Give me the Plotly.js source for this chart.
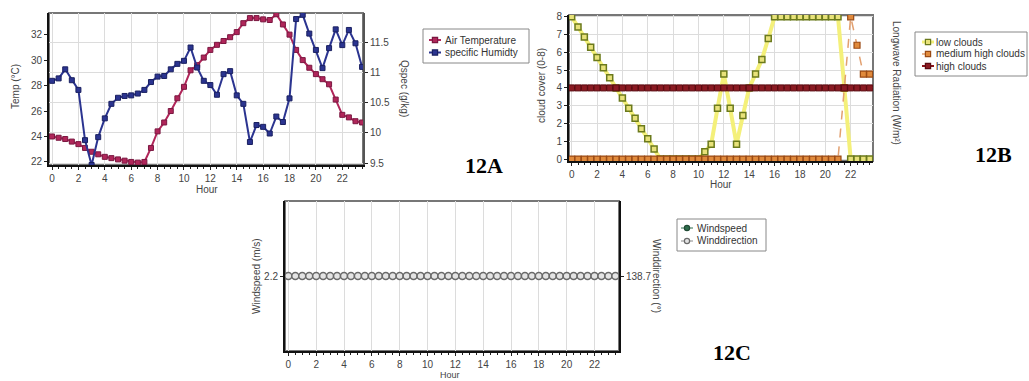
<!DOCTYPE html>
<html><head><meta charset="utf-8">
<script src="https://cdn.plot.ly/plotly-3.0.1.min.js"></script>
<style>html,body{margin:0;padding:0;background:#fff;overflow:hidden;width:1029px;height:381px;}#chart{width:1029px;height:381px;overflow:hidden;}</style>
</head><body><div id="chart"></div>
<script>
const hours = [0,0.5,1,1.5,2,2.5,3,3.5,4,4.5,5,5.5,6,6.5,7,7.5,8,8.5,9,9.5,10,10.5,11,11.5,12,12.5,13,13.5,14,14.5,15,15.5,16,16.5,17,17.5,18,18.5,19,19.5,20,20.5,21,21.5,22,22.5,23,23.5];
const hourTicks = [0,2,4,6,8,10,12,14,16,18,20,22];

// 12A
const airTemperature = [24.0,23.9,23.8,23.6,23.4,23.1,22.8,22.6,22.4,22.3,22.2,22.1,22.0,21.95,22.0,23.1,24.4,25.1,26.0,27.0,27.9,29.2,29.6,30.2,30.8,31.2,31.5,31.8,32.2,32.9,33.3,33.3,33.2,33.15,33.6,32.8,32.0,30.8,30.0,29.4,28.9,28.5,28.1,26.9,25.7,25.5,25.2,25.1];
const specificHumidity = [10.86,10.90,11.05,10.87,10.71,9.88,9.47,9.93,10.24,10.48,10.58,10.61,10.62,10.65,10.71,10.84,10.93,10.94,11.05,11.14,11.19,11.41,11.08,10.86,10.79,10.63,10.97,11.02,10.62,10.48,9.85,10.13,10.10,9.99,10.27,10.18,10.57,11.88,11.95,11.64,11.37,11.07,11.40,11.71,11.45,11.70,11.48,11.09];
const tempTicks = [22,24,26,28,30,32];
const qspecTicks = [9.5,10,10.5,11,11.5];

// 12B
const lowClouds = [8,7.43,6.86,6.29,5.71,5.14,4.57,4.0,3.43,2.86,2.29,1.71,1.14,0.57,0,0,0,0,0,0,0,0.41,0.83,2.85,4.78,2.85,0.83,2.45,4.0,4.78,5.6,6.78,8,8,8,8,8,8,8,8,8,8,8,4,0,0,0,0];
const mediumHighClouds = [0,0,0,0,0,0,0,0,0,0,0,0,0,0,0,0,0,0,0,0,0,0,0,0,0,0,0,0,0,0,0,0,0,0,0,0,0,0,0,0,0,0,0,4,8,6.4,4.78,4.78];
const highClouds = [4,4,4,4,4,4,4,4,4,4,4,4,4,4,4,4,4,4,4,4,4,4,4,4,4,4,4,4,4,4,4,4,4,4,4,4,4,4,4,4,4,4,4,4,4,4,4,4];
const cloudTicks = [0,1,2,3,4,5,6,7,8];
const longwaveTicks = [0];

// 12C
const windspeed = [2.2,2.2,2.2,2.2,2.2,2.2,2.2,2.2,2.2,2.2,2.2,2.2,2.2,2.2,2.2,2.2,2.2,2.2,2.2,2.2,2.2,2.2,2.2,2.2,2.2,2.2,2.2,2.2,2.2,2.2,2.2,2.2,2.2,2.2,2.2,2.2,2.2,2.2,2.2,2.2,2.2,2.2,2.2,2.2,2.2,2.2,2.2,2.2];
const winddirection = [138.7,138.7,138.7,138.7,138.7,138.7,138.7,138.7,138.7,138.7,138.7,138.7,138.7,138.7,138.7,138.7,138.7,138.7,138.7,138.7,138.7,138.7,138.7,138.7,138.7,138.7,138.7,138.7,138.7,138.7,138.7,138.7,138.7,138.7,138.7,138.7,138.7,138.7,138.7,138.7,138.7,138.7,138.7,138.7,138.7,138.7,138.7,138.7];
const windspeedTicks = [2.2];
const winddirectionTicks = [138.7];

const W = 1029, H = 381;
const px = v => v / W;
const py = v => 1 - v / H;
const fam = 'Liberation Sans, Arial, sans-serif';
const tf = {family: fam, size: 10, color: '#444'};

function xAxis(l, r, range, anchor) {
  return {domain: [px(l), px(r)], range: range, anchor: anchor, tickvals: hourTicks,
    ticks: 'outside', ticklen: 3, tickcolor: '#222', showline: true, linecolor: '#111', linewidth: 2,
    showgrid: true, gridcolor: '#dcdcdc', gridwidth: 1, zeroline: false, tickfont: tf,
    minor: {ticks: 'outside', tick0: 0, dtick: 0.5, ticklen: 2, tickcolor: '#222', showgrid: false},
    fixedrange: true};
}
function yAxis(t, b, range, anchor, tickvals, grid, lineColor) {
  return {domain: [py(b), py(t)], range: range, anchor: anchor, tickvals: tickvals,
    ticks: 'outside', ticklen: 3, tickcolor: '#222', showline: true, linecolor: lineColor || '#111', linewidth: 2,
    showgrid: grid, gridcolor: '#dcdcdc', gridwidth: 1, zeroline: false, tickfont: tf, fixedrange: true};
}
function yAxisRight(t, b, range, anchor, overlay, tickvals, grid, lineColor) {
  const a = yAxis(t, b, range, anchor, tickvals, grid, lineColor);
  a.side = 'right'; a.overlaying = overlay;
  return a;
}

const cA = '#b0265a', cB = '#2b3490';
const styles = {
  temp: {line: {color: cA, width: 2}, marker: {symbol: 'square', size: 5, color: cA, line: {color: '#7a1840', width: 1}}},
  hum: {line: {color: cB, width: 2}, marker: {symbol: 'square', size: 5, color: cB, line: {color: '#1a2060', width: 1}}},
  low: {line: {color: '#f4f07a', width: 4}, marker: {symbol: 'square', size: 6, color: '#e8e27a', line: {color: '#6b7a1c', width: 1.5}}},
  med: {line: {color: '#e2a070', width: 1.5, dash: 'dash'}, marker: {symbol: 'square', size: 6, color: '#e08a3c', line: {color: '#9a4a14', width: 1.2}}},
  high: {line: {color: '#8a1218', width: 2}, marker: {symbol: 'square', size: 6, color: '#8a1a22', line: {color: '#5a0a10', width: 1}}},
  ws: {line: {color: '#2f6e4e', width: 1}, marker: {symbol: 'circle', size: 6, color: '#2f6e4e', line: {color: '#1f4a34', width: 1}}},
  wd: {line: {color: '#888', width: 1}, marker: {symbol: 'circle', size: 7, color: '#e4e4e4', line: {color: '#6a6a6a', width: 1.5}}}
};

const traces = [
  Object.assign({x: hours, y: airTemperature, name: 'Air Temperature', xaxis: 'x', yaxis: 'y', mode: 'lines+markers'}, styles.temp),
  Object.assign({x: hours, y: specificHumidity, name: 'specific Humidty', xaxis: 'x', yaxis: 'y2', mode: 'lines+markers'}, styles.hum),
  Object.assign({x: hours, y: lowClouds, name: 'low clouds', xaxis: 'x2', yaxis: 'y3', mode: 'lines+markers'}, styles.low),
  Object.assign({x: hours, y: mediumHighClouds, name: 'medium high clouds', xaxis: 'x2', yaxis: 'y3', mode: 'lines+markers'}, styles.med),
  Object.assign({x: hours, y: highClouds, name: 'high clouds', xaxis: 'x2', yaxis: 'y3', mode: 'lines+markers'}, styles.high),
  {x: hours, y: windspeed, name: 'Windspeed', xaxis: 'x3', yaxis: 'y5', mode: 'markers', marker: styles.ws.marker},
  {x: hours, y: winddirection, name: 'Winddirection', xaxis: 'x3', yaxis: 'y6', mode: 'markers', marker: styles.wd.marker}
];

// panel frames
const A = {l: 49, r: 363, t: 13, b: 165};
const B = {l: 569, r: 873, t: 15, b: 161};
const C = {l: 285, r: 619, t: 201, b: 351};
const shapes = [A, B, C].map(p => ({type: 'rect', xref: 'paper', yref: 'paper', x0: px(p.l), x1: px(p.r), y0: py(p.b), y1: py(p.t),
  line: {color: '#777', width: 2}, layer: 'below'}));

const ann = (x, y, text, angle, extra) => Object.assign({xref: 'paper', yref: 'paper', x: px(x), y: py(y), text: text,
  showarrow: false, textangle: angle, font: {family: fam, size: 10, color: '#444'},
  xanchor: 'center', yanchor: 'middle'}, extra || {});
const panelFont = {family: 'Liberation Serif, Times New Roman, serif', size: 22, color: '#000', weight: 'bold'};

const annotations = [
  ann(15, 87, 'Temp (°C)', -90),
  ann(207, 189, 'Hour', 0),
  ann(405, 88, 'Qspec (g/kg)', 90),
  ann(542, 86, 'cloud cover (0-8)', -90),
  ann(721, 185, 'Hour', 0),
  ann(897, 83, 'Longwave Radiation (W/m²)', 90),
  ann(256, 276, 'Windspeed (m/s)', -90),
  ann(450, 381, 'Hour', 0, {yanchor: 'bottom', borderpad: 0, font: {family: fam, size: 9, color: '#444'}}),
  ann(657, 276, 'Winddirection (°)', 90),
  ann(463, 165, '12A', 0, {font: panelFont, xanchor: 'left'}),
  ann(973, 154, '12B', 0, {font: panelFont, xanchor: 'left'}),
  ann(711, 352, '12C', 0, {font: panelFont, xanchor: 'left'})
];

// compact legends drawn as shapes + text
function legend(box, symX, textX, rows, style, names) {
  shapes.push({type: 'rect', xref: 'paper', yref: 'paper', x0: px(box[0]), x1: px(box[2]), y0: py(box[3]), y1: py(box[1]),
    line: {color: '#888', width: 1}, fillcolor: '#fff', layer: 'above'});
  names.forEach((n, i) => {
    const s = style[i], y = rows[i];
    shapes.push({type: 'line', xref: 'paper', yref: 'paper', x0: px(symX - 6), x1: px(symX + 6), y0: py(y), y1: py(y),
      line: {color: s.line.color, width: Math.min(s.line.width, 3), dash: s.line.dash || 'solid'}, layer: 'above'});
    const r = 2.6;
    shapes.push({type: s.marker.symbol === 'circle' ? 'circle' : 'rect', xref: 'paper', yref: 'paper',
      x0: px(symX - r), x1: px(symX + r), y0: py(y + r), y1: py(y - r),
      fillcolor: s.marker.color, line: {color: s.marker.line.color, width: 1.2}, layer: 'above'});
    annotations.push({xref: 'paper', yref: 'paper', x: px(textX), y: py(y), text: n, showarrow: false,
      xanchor: 'left', yanchor: 'middle', font: {family: fam, size: 10, color: '#333'}});
  });
}
legend([423, 29, 529, 63], 435, 443, [40, 52.5], [styles.temp, styles.hum], [traces[0].name, traces[1].name]);
legend([915, 32, 1027, 76], 928, 934, [42, 54, 66], [styles.low, styles.med, styles.high], [traces[2].name, traces[3].name, traces[4].name]);
legend([677, 219, 766, 251], 687, 695, [228, 241], [styles.ws, styles.wd], [traces[5].name, traces[6].name]);

const layout = {
  width: W, height: H, margin: {l: 0, r: 0, t: 0, b: 0}, paper_bgcolor: '#fff', plot_bgcolor: 'rgba(0,0,0,0)',
  showlegend: false,
  xaxis: xAxis(A.l, A.r, [-0.23, 23.57], 'y'),
  yaxis: yAxis(A.t, A.b, [21.76, 33.7], 'x', tempTicks, false),
  yaxis2: yAxisRight(A.t, A.b, [9.47, 11.98], 'x', 'y', qspecTicks, true, '#555'),
  xaxis2: xAxis(B.l, B.r, [-0.21, 23.76], 'y3'),
  yaxis3: yAxis(B.t, B.b, [-0.11, 8.1], 'x2', cloudTicks, true),
  yaxis4: yAxisRight(B.t, B.b, [-4.11, 4.1], 'x2', 'y3', longwaveTicks, false, '#555'),
  xaxis3: xAxis(C.l, C.r, [-0.24, 23.76], 'y5'),
  yaxis5: yAxis(C.t, C.b, [1.2, 3.2], 'x3', windspeedTicks, false),
  yaxis6: yAxisRight(C.t, C.b, [137.7, 139.7], 'x3', 'y5', winddirectionTicks, false, '#111'),
  shapes: shapes,
  annotations: annotations
};

Plotly.newPlot('chart', traces, layout, {displayModeBar: false, staticPlot: true});
</script>
</body></html>
